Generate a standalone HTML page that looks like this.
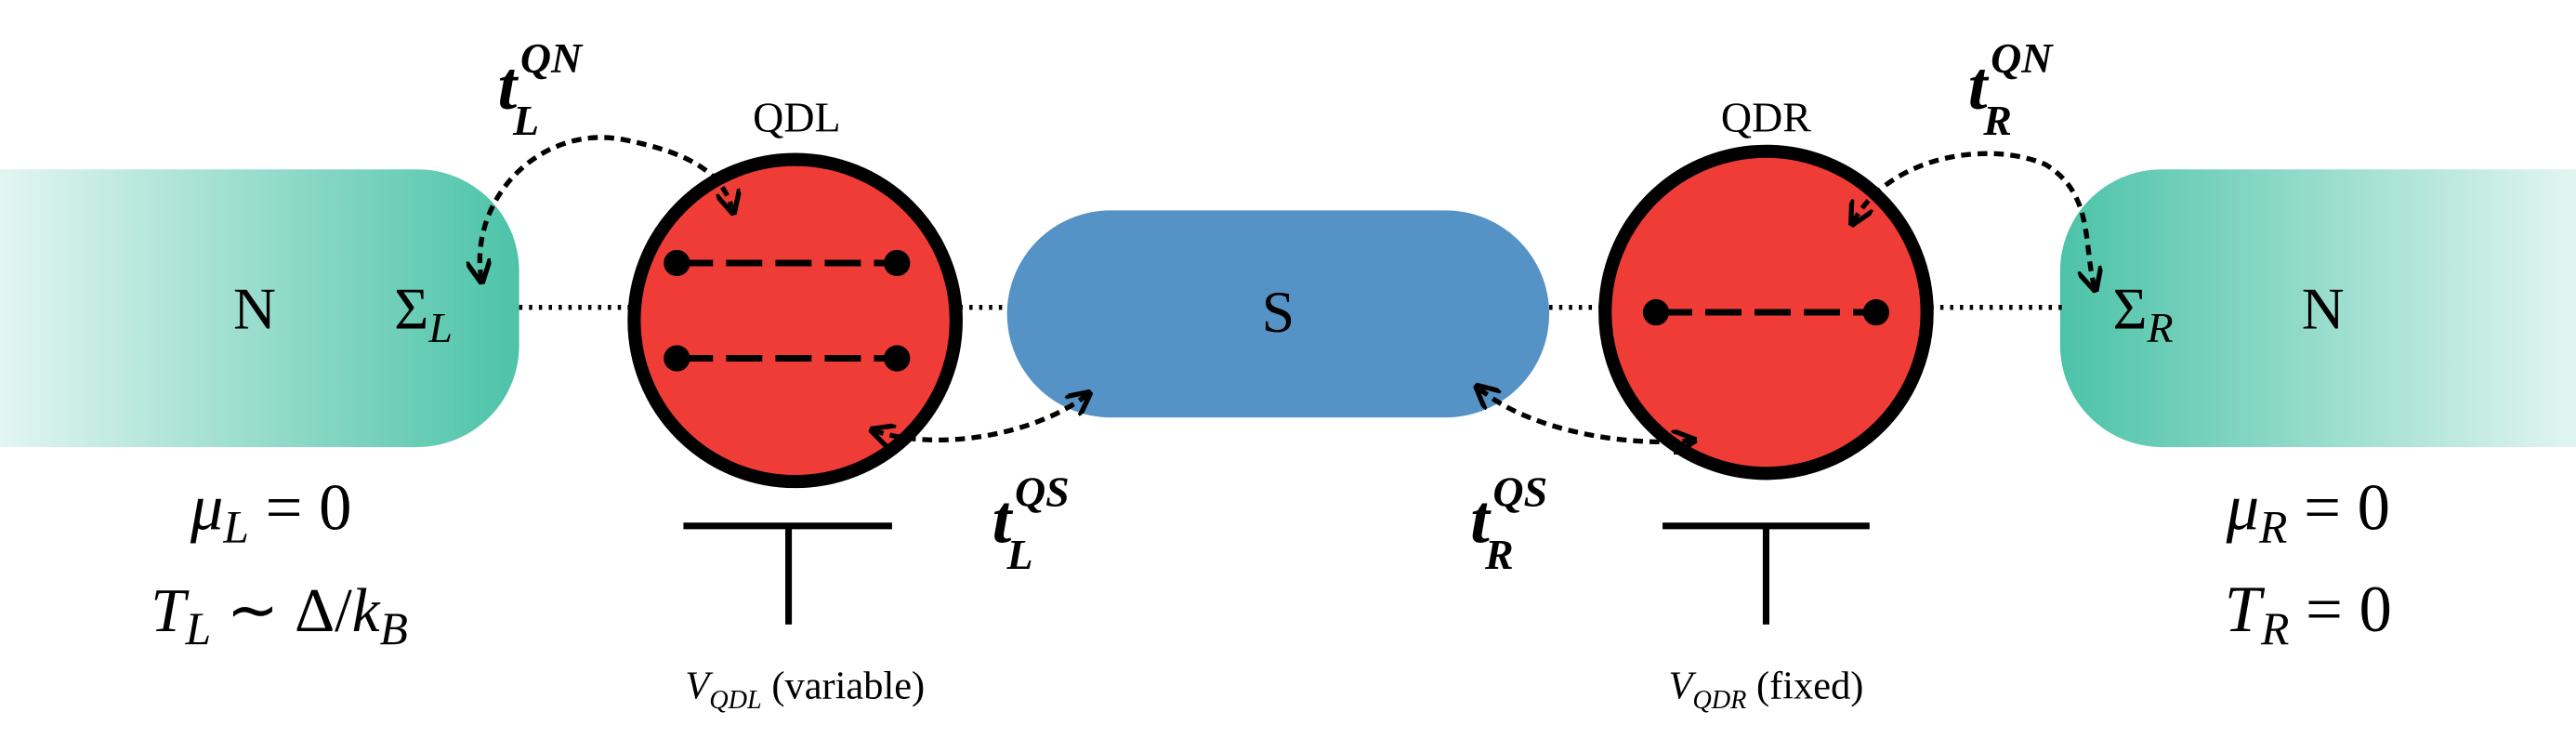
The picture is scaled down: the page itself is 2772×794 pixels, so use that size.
<!DOCTYPE html>
<html><head><meta charset="utf-8"><style>
html,body{margin:0;padding:0;background:#fff;}
svg{display:block;}
text{font-family:"Liberation Serif",serif;fill:#000;}
.it{font-style:italic;}
</style></head><body>
<svg width="2772" height="794" viewBox="0 0 1568 449" xmlns="http://www.w3.org/2000/svg">
<defs>
<linearGradient id="gl" x1="0" x2="1" y1="0" y2="0"><stop offset="0" stop-color="#4cc3a8" stop-opacity="0"/><stop offset="1" stop-color="#4cc3a8"/></linearGradient>
<linearGradient id="gr" x1="0" x2="1" y1="0" y2="0"><stop offset="0" stop-color="#4cc3a8"/><stop offset="1" stop-color="#4cc3a8" stop-opacity="0"/></linearGradient>
<marker id="ah" viewBox="0 0 10 10" refX="8" refY="5" markerWidth="5" markerHeight="5" orient="auto-start-reverse"><path d="M0,0 L10,5 L0,10" fill="none" stroke="#000" stroke-width="2"/></marker>
</defs>
<g>
<rect x="-60" y="103" width="376" height="169" rx="62" fill="url(#gl)"/>
<text x="155" y="200" font-size="36" text-anchor="middle">N</text>
<text x="240" y="200" font-size="36">Σ<tspan class="it" font-size="26" dy="8">L</tspan></text>
</g>
<g>
<rect x="1254" y="103" width="376" height="169" rx="62" fill="url(#gr)"/>
<text x="1286" y="200" font-size="36">Σ<tspan class="it" font-size="26" dy="8">R</tspan></text>
<text x="1414" y="200" font-size="36" text-anchor="middle">N</text>
</g>
<g stroke="#000" stroke-width="3" stroke-dasharray="2,4">
<line x1="316" y1="187" x2="384" y2="187"/><line x1="584" y1="187" x2="615" y2="187"/>
<line x1="943" y1="187" x2="975" y2="187"/><line x1="1175" y1="187" x2="1255" y2="187"/>
</g>
<g>
<rect x="613" y="128" width="330" height="126" rx="63" fill="#5592c6"/>
<text x="778" y="202" font-size="36" text-anchor="middle">S</text>
</g>
<g>
<circle cx="484" cy="195" r="98" fill="#ef3c36" stroke="#000" stroke-width="8"/>
<line x1="412" y1="160" x2="546" y2="160" stroke="#000" stroke-width="4" stroke-dasharray="22,8"/>
<line x1="412" y1="218" x2="546" y2="218" stroke="#000" stroke-width="4" stroke-dasharray="22,8"/>
<circle cx="412" cy="160" r="8"/><circle cx="546" cy="160" r="8"/><circle cx="412" cy="218" r="8"/><circle cx="546" cy="218" r="8"/>
<text x="485" y="80" font-size="26" text-anchor="middle">QDL</text>
</g>
<g>
<circle cx="1075" cy="190" r="98" fill="#ef3c36" stroke="#000" stroke-width="8"/>
<line x1="1008" y1="190" x2="1142" y2="190" stroke="#000" stroke-width="4" stroke-dasharray="22,8"/>
<circle cx="1008" cy="190" r="8"/><circle cx="1142" cy="190" r="8"/>
<text x="1075" y="80" font-size="26" text-anchor="middle">QDR</text>
</g>
<g fill="none" stroke="#000" stroke-width="3" stroke-dasharray="6,4" marker-end="url(#ah)">
<path d="M293,170 C285,120 330,75 380,85 C420,93 440,105 446,128" marker-start="url(#ah)"/>
<path d="M532,262 C570,275 630,265 662,240" marker-start="url(#ah)"/>
<path d="M1030,268 C990,272 930,262 900,236" marker-start="url(#ah)"/>
<path d="M1128,135 C1150,95 1210,85 1245,100 C1275,118 1268,150 1275,175" marker-start="url(#ah)"/>
</g>
<g font-weight="bold">
<text x="303" y="66" font-size="42" class="it">t<tspan font-size="26" dx="2" dy="-22">QN</tspan><tspan font-size="26" dx="-42" dy="38">L</tspan></text>
<text x="1198" y="66" font-size="42" class="it">t<tspan font-size="26" dx="2" dy="-22">QN</tspan><tspan font-size="26" dx="-42" dy="38">R</tspan></text>
<text x="604" y="330" font-size="42" class="it">t<tspan font-size="26" dx="2" dy="-22">QS</tspan><tspan font-size="26" dx="-38" dy="38">L</tspan></text>
<text x="895" y="330" font-size="42" class="it">t<tspan font-size="26" dx="2" dy="-22">QS</tspan><tspan font-size="26" dx="-38" dy="38">R</tspan></text>
</g>
<g stroke="#000" stroke-width="4">
<line x1="416" y1="320" x2="543" y2="320"/><line x1="480" y1="320" x2="480" y2="380"/>
<line x1="1012" y1="320" x2="1138" y2="320"/><line x1="1075" y1="320" x2="1075" y2="380"/>
</g>
<text x="490" y="425" font-size="24" text-anchor="middle"><tspan class="it">V</tspan><tspan class="it" font-size="16" dy="6">QDL</tspan><tspan dy="-6"> (variable)</tspan></text>
<text x="1075" y="425" font-size="24" text-anchor="middle"><tspan class="it">V</tspan><tspan class="it" font-size="16" dy="6">QDR</tspan><tspan dy="-6"> (fixed)</tspan></text>
<text x="165" y="322" font-size="40" text-anchor="middle"><tspan class="it">μ</tspan><tspan class="it" font-size="28" dy="8">L</tspan><tspan dy="-8"> = 0</tspan></text>
<text x="170" y="384" font-size="38" text-anchor="middle"><tspan class="it">T</tspan><tspan class="it" font-size="28" dy="8">L</tspan><tspan dy="-8"> ∼ Δ/</tspan><tspan class="it">k</tspan><tspan class="it" font-size="28" dy="8">B</tspan></text>
<text x="1405" y="322" font-size="40" text-anchor="middle"><tspan class="it">μ</tspan><tspan class="it" font-size="28" dy="8">R</tspan><tspan dy="-8"> = 0</tspan></text>
<text x="1405" y="384" font-size="40" text-anchor="middle"><tspan class="it">T</tspan><tspan class="it" font-size="28" dy="8">R</tspan><tspan dy="-8"> = 0</tspan></text>
</svg>
</body></html>
